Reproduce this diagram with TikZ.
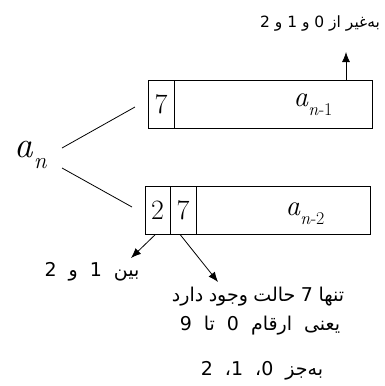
\documentclass[tikz,border=0pt]{standalone}
\usepackage{fontspec}
\usetikzlibrary{arrows.meta,calc}
\newfontfamily\fa[Script=Arabic]{DejaVu Sans}
\TeXXeTstate=1

% sequence term a with a lowered, reduced index
\newcommand{\seqterm}[1]{\textit{a}\raisebox{-0.3em}{\scalebox{0.62}{#1}}}

\tikzset{
  cell/.style={draw, line width=0.8pt, minimum height=48pt, inner sep=0pt,
    font=\fontsize{28}{28}\selectfont},
  link/.style={line width=0.8pt},
  arr/.style={line width=0.8pt, -{Latex[length=10pt,width=8pt]}},
  fatext/.style={font=\fa\fontsize{19}{23}\selectfont, inner sep=0pt},
  term/.style={inner sep=0pt, font=\fontsize{29}{29}\selectfont},
}

\begin{document}
\begin{tikzpicture}[x=1pt,y=-1pt]
\useasboundingbox (0,0) rectangle (385,386);

% the term being split
\node[inner sep=0pt, font=\fontsize{37}{37}\selectfont] (an) at (31,155) {\seqterm{\textit{n}}};

% first case: leading digit 7 followed by a_{n-1}
\node[cell, minimum width=26pt] (u7) at (161,104) {7};
\node[cell, minimum width=198pt] (urest) at (273,104) {};
\node[term] (uan) at (313,105) {\seqterm{\textit{n}-1}};

% second case: leading digits 2,7 followed by a_{n-2}
\node[cell, minimum width=25pt] (l2) at (157.5,210) {2};
\node[cell, minimum width=26pt] (l7) at (183,210) {7};
\node[cell, minimum width=174pt] (lrest) at (283,210) {};
\node[term] (lan) at (305,214) {\seqterm{\textit{n}-2}};

% branches from a_n
\coordinate (p1) at (62,148);
\coordinate (p2) at (135,107);
\coordinate (p3) at (62,168);
\coordinate (p4) at (132,207);
\draw[link] (p1) -- (p2);
\draw[link] (p3) -- (p4);

% notes
\node[fatext, font=\fa\fontsize{15.5}{20}\selectfont] (top) at (320,24) {\beginR به‌غیر از 0 و 1 و 2\endR};
\coordinate (uptip) at (346,52);
\draw[arr] (urest.north -| uptip) -- (uptip);

\coordinate (t1) at (131,258);
\coordinate (t2) at (218,282);
\draw[arr] ($(l2.south)+(-2,0)$) -- (t1);
\draw[arr] ($(l7.south)+(-3,0)$) -- (t2);

\node[fatext] (bl) at (92,272) {\spaceskip=12pt\relax\beginR بین 1 و 2\endR};
\node[fatext] (r1) at (258,297) {\spaceskip=5.5pt\relax\beginR تنها 7 حالت وجود دارد\endR};
\node[fatext] (r2) at (260,326) {\spaceskip=12pt\relax\beginR یعنی ارقام 0 تا 9\endR};
\node[fatext] (r3) at (262,371) {\spaceskip=12pt\relax\beginR به‌جز 0، 1، 2\endR};
\end{tikzpicture}
\end{document}
